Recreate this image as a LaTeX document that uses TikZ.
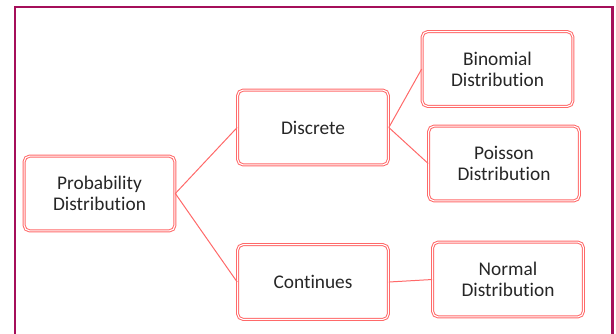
\documentclass[tikz,border=0pt]{standalone}
\usepackage{fontspec}
\setmainfont{Carlito}[Ligatures={NoCommon,NoContextual}]
\usetikzlibrary{positioning}
\definecolor{framecol}{RGB}{165,15,90}
\definecolor{boxred}{RGB}{255,105,105}
\definecolor{textcol}{RGB}{38,38,38}
\tikzset{
  distbox/.style={draw=boxred, double=white, double distance=0.8pt, line width=0.75pt,
    rounded corners=4pt, minimum width=113pt, minimum height=56pt,
    align=center, text=textcol, font=\fontsize{14.5}{15.8}\selectfont},
  link/.style={draw=boxred, line width=0.75pt}
}
\begin{document}
\begin{tikzpicture}[x=0.75pt,y=-0.75pt]
\useasboundingbox (0,0) rectangle (616,333);
\begin{scope}
\clip (0,0) rectangle (616,333);
\draw[draw=framecol, line width=1.6pt] (15,360) -- (15,7) -- (612.5,7) -- (612.5,360);
\end{scope}
% nodes
\node[distbox] (prob) at (99.5,193.5) {Probability\\Distribution};
\node[distbox] (disc) at (313,127.5) {Discrete};
\node[distbox] (cont) at (313,282) {Continues};
\node[distbox] (binom) at (497.5,69) {Binomial\\Distribution};
\node[distbox] (pois) at (504,163.5) {Poisson\\Distribution};
\node[distbox] (norm) at (508,279.5) {Normal\\Distribution};
% links
\draw[link] (prob.east) -- (disc.west);
\draw[link] (prob.east) -- (cont.west);
\draw[link] (disc.east) -- (binom.west);
\draw[link] (disc.east) -- (pois.west);
\draw[link] (cont.east) -- (norm.west);
\end{tikzpicture}
\end{document}
